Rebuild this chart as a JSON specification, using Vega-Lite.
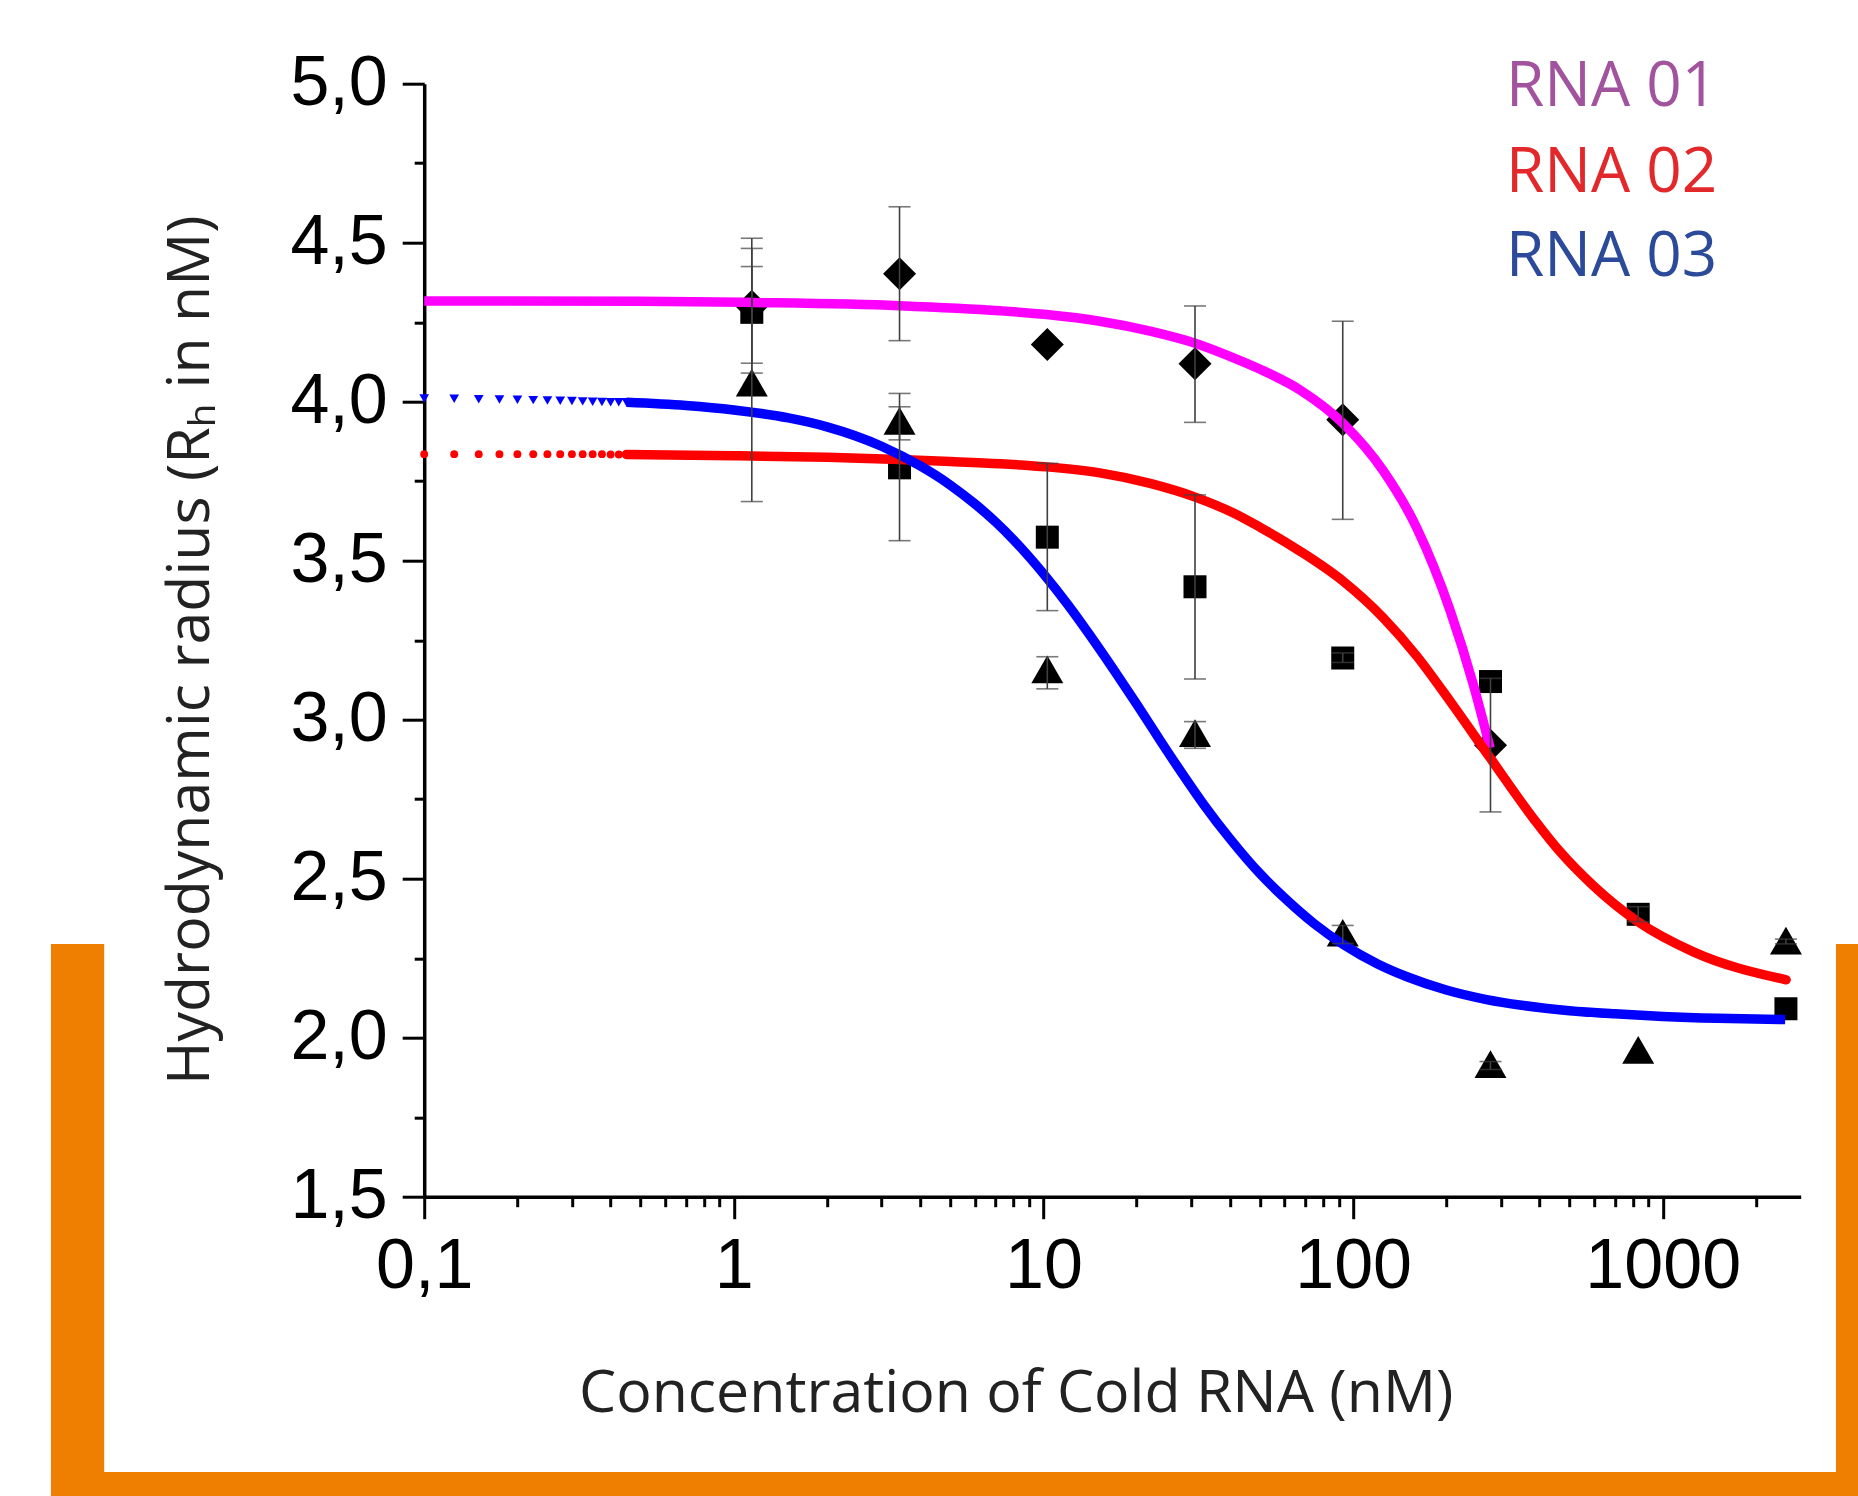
{
  "$schema": "https://vega.github.io/schema/vega-lite/v6.json",
  "width": 1376.5,
  "height": 1113,
  "autosize": {"type": "none"},
  "padding": {"left": 424.2, "top": 83.7, "right": 57.3, "bottom": 299.3},
  "background": "white",
  "config": {"view": {"stroke": null}},
  "datasets": {
    "frame": [
      {"x1": 0.006232, "x2": 0.009256, "y1": 2.2947, "y2": 0.55},
      {"x1": 0.006232, "x2": 4400, "y1": 0.6343, "y2": 0.55},
      {"x1": 3627, "x2": 4400, "y1": 2.2947, "y2": 0.55}
    ],
    "pts": [
      {"s": "RNA 01", "c": 1.143, "v": 4.30},
      {"s": "RNA 01", "c": 3.429, "v": 4.402},
      {"s": "RNA 01", "c": 10.29, "v": 4.180},
      {"s": "RNA 01", "c": 30.86, "v": 4.119},
      {"s": "RNA 01", "c": 92.59, "v": 3.943},
      {"s": "RNA 01", "c": 277.8, "v": 2.920},
      {"s": "RNA 02", "c": 1.143, "v": 4.281},
      {"s": "RNA 02", "c": 3.429, "v": 3.792},
      {"s": "RNA 02", "c": 10.29, "v": 3.574},
      {"s": "RNA 02", "c": 30.86, "v": 3.418},
      {"s": "RNA 02", "c": 92.59, "v": 3.194},
      {"s": "RNA 02", "c": 277.8, "v": 3.120},
      {"s": "RNA 02", "c": 833.3, "v": 2.388},
      {"s": "RNA 02", "c": 2500, "v": 2.091},
      {"s": "RNA 03", "c": 1.143, "v": 4.06},
      {"s": "RNA 03", "c": 3.429, "v": 3.94},
      {"s": "RNA 03", "c": 10.29, "v": 3.158},
      {"s": "RNA 03", "c": 30.86, "v": 2.958},
      {"s": "RNA 03", "c": 92.59, "v": 2.330},
      {"s": "RNA 03", "c": 277.8, "v": 1.917},
      {"s": "RNA 03", "c": 833.3, "v": 1.962},
      {"s": "RNA 03", "c": 2500, "v": 2.305}
    ],
    "err": [
      {"s": "RNA 01", "c": 1.143, "lo": 4.09, "hi": 4.514},
      {"s": "RNA 01", "c": 3.429, "lo": 4.192, "hi": 4.613},
      {"s": "RNA 01", "c": 30.86, "lo": 3.935, "hi": 4.301},
      {"s": "RNA 01", "c": 92.59, "lo": 3.630, "hi": 4.253},
      {"s": "RNA 01", "c": 277.8, "lo": 2.710, "hi": 3.13},
      {"s": "RNA 02", "c": 1.143, "lo": 4.121, "hi": 4.482},
      {"s": "RNA 02", "c": 3.429, "lo": 3.563, "hi": 4.026},
      {"s": "RNA 02", "c": 10.29, "lo": 3.343, "hi": 3.806},
      {"s": "RNA 02", "c": 30.86, "lo": 3.128, "hi": 3.707},
      {"s": "RNA 02", "c": 92.59, "lo": 3.18, "hi": 3.21},
      {"s": "RNA 02", "c": 833.3, "lo": 2.365, "hi": 2.412},
      {"s": "RNA 03", "c": 1.143, "lo": 3.686, "hi": 4.425},
      {"s": "RNA 03", "c": 3.429, "lo": 3.88, "hi": 3.984},
      {"s": "RNA 03", "c": 10.29, "lo": 3.097, "hi": 3.198},
      {"s": "RNA 03", "c": 30.86, "lo": 2.910, "hi": 2.994},
      {"s": "RNA 03", "c": 92.59, "lo": 2.296, "hi": 2.353},
      {"s": "RNA 03", "c": 277.8, "lo": 1.90, "hi": 1.925},
      {"s": "RNA 03", "c": 2500, "lo": 2.295, "hi": 2.31}
    ],
    "curve01": [
      {"c": 0.1, "v": 4.317},
      {"c": 0.5, "v": 4.316},
      {"c": 1.15, "v": 4.312},
      {"c": 3.43, "v": 4.302},
      {"c": 7.24, "v": 4.286},
      {"c": 10.25, "v": 4.274},
      {"c": 15.2, "v": 4.253},
      {"c": 22.1, "v": 4.222},
      {"c": 30.9, "v": 4.184},
      {"c": 41.1, "v": 4.138},
      {"c": 50.1, "v": 4.102},
      {"c": 67.4, "v": 4.037},
      {"c": 93, "v": 3.931},
      {"c": 125.3, "v": 3.782},
      {"c": 160.6, "v": 3.603},
      {"c": 205.8, "v": 3.343},
      {"c": 244.7, "v": 3.109},
      {"c": 277, "v": 2.911}
    ],
    "curve02": [
      {"c": 0.45, "v": 3.834},
      {"c": 1, "v": 3.830},
      {"c": 2, "v": 3.825},
      {"c": 3.43, "v": 3.818},
      {"c": 5, "v": 3.812},
      {"c": 7.24, "v": 3.805},
      {"c": 10.25, "v": 3.795},
      {"c": 15.2, "v": 3.776},
      {"c": 22.1, "v": 3.743},
      {"c": 30.9, "v": 3.700},
      {"c": 41.1, "v": 3.650},
      {"c": 50.1, "v": 3.605},
      {"c": 67.4, "v": 3.530},
      {"c": 93, "v": 3.435},
      {"c": 125.3, "v": 3.320},
      {"c": 160.6, "v": 3.200},
      {"c": 205.8, "v": 3.058},
      {"c": 277, "v": 2.880},
      {"c": 382, "v": 2.690},
      {"c": 466, "v": 2.585},
      {"c": 597, "v": 2.478},
      {"c": 831, "v": 2.365},
      {"c": 1256, "v": 2.270},
      {"c": 2503, "v": 2.182}
    ],
    "curve03": [
      {"c": 0.45, "v": 3.998},
      {"c": 0.7, "v": 3.988},
      {"c": 1, "v": 3.974},
      {"c": 1.5, "v": 3.949},
      {"c": 2, "v": 3.921},
      {"c": 3, "v": 3.860},
      {"c": 4, "v": 3.798},
      {"c": 5, "v": 3.738},
      {"c": 6, "v": 3.679},
      {"c": 7, "v": 3.622},
      {"c": 8, "v": 3.566},
      {"c": 10, "v": 3.459},
      {"c": 12, "v": 3.361},
      {"c": 14, "v": 3.271},
      {"c": 17, "v": 3.152},
      {"c": 20, "v": 3.049},
      {"c": 24, "v": 2.930},
      {"c": 28, "v": 2.832},
      {"c": 33, "v": 2.732},
      {"c": 40, "v": 2.626},
      {"c": 50, "v": 2.516},
      {"c": 60, "v": 2.440},
      {"c": 75, "v": 2.358},
      {"c": 93, "v": 2.293},
      {"c": 120, "v": 2.232},
      {"c": 150, "v": 2.191},
      {"c": 200, "v": 2.150},
      {"c": 270, "v": 2.120},
      {"c": 350, "v": 2.102},
      {"c": 500, "v": 2.085},
      {"c": 700, "v": 2.075},
      {"c": 1000, "v": 2.067},
      {"c": 1500, "v": 2.061},
      {"c": 2485, "v": 2.057}
    ],
    "dotsR": [
      {"c": 0.1, "v": 3.835}, {"c": 0.125, "v": 3.835}, {"c": 0.15, "v": 3.835},
      {"c": 0.175, "v": 3.835}, {"c": 0.2, "v": 3.835}, {"c": 0.225, "v": 3.835},
      {"c": 0.25, "v": 3.835}, {"c": 0.275, "v": 3.835}, {"c": 0.3, "v": 3.835},
      {"c": 0.325, "v": 3.835}, {"c": 0.35, "v": 3.835}, {"c": 0.375, "v": 3.835},
      {"c": 0.4, "v": 3.834}, {"c": 0.425, "v": 3.834}, {"c": 0.45, "v": 3.834}
    ],
    "dotsB": [
      {"c": 0.1, "v": 4.010}, {"c": 0.125, "v": 4.009}, {"c": 0.15, "v": 4.008},
      {"c": 0.175, "v": 4.007}, {"c": 0.2, "v": 4.006}, {"c": 0.225, "v": 4.005},
      {"c": 0.25, "v": 4.004}, {"c": 0.275, "v": 4.003}, {"c": 0.3, "v": 4.002},
      {"c": 0.325, "v": 4.001}, {"c": 0.35, "v": 4.000}, {"c": 0.375, "v": 3.999},
      {"c": 0.4, "v": 3.998}, {"c": 0.425, "v": 3.998}, {"c": 0.45, "v": 3.998}
    ],
    "labels": [
      {"label": "RNA 01", "c": 312, "v": 4.929},
      {"label": "RNA 02", "c": 312, "v": 4.661},
      {"label": "RNA 03", "c": 312, "v": 4.395}
    ]
  },
  "resolve": {"axis": {"x": "independent", "y": "independent"}},
  "layer": [
    {
      "data": {"name": "frame"},
      "mark": {"type": "rect", "color": "#EE7F00", "clip": false},
      "encoding": {
        "x": {"field": "x1", "type": "quantitative",
              "scale": {"type": "log", "domain": [0.1, 2790], "nice": false, "zero": false},
              "axis": {"orient": "bottom", "values": [0.2,0.3,0.4,0.5,0.6,0.7,0.8,0.9,2,3,4,5,6,7,8,9,20,30,40,50,60,70,80,90,200,300,400,500,600,700,800,900,2000],
                       "labels": false, "domain": false, "grid": false, "title": null,
                       "tickSize": 10, "tickWidth": 3, "tickColor": "black"}},
        "x2": {"field": "x2"},
        "y": {"field": "y1", "type": "quantitative",
              "scale": {"domain": [1.5, 5.0], "nice": false, "zero": false},
              "axis": {"orient": "left", "values": [1.75,2.25,2.75,3.25,3.75,4.25,4.75],
                       "labels": false, "domain": false, "grid": false, "title": null,
                       "tickSize": 10, "tickWidth": 3, "tickColor": "black"}},
        "y2": {"field": "y2"}
      }
    },
    {
      "data": {"name": "pts"},
      "transform": [{"filter": "datum.s == 'RNA 01'"}],
      "mark": {"type": "point", "shape": "diamond", "filled": true, "color": "black", "opacity": 1, "size": 1089},
      "encoding": {
        "x": {"field": "c", "type": "quantitative",
              "scale": {"type": "log", "domain": [0.1, 2790], "nice": false, "zero": false},
              "axis": {"orient": "bottom", "values": [0.1, 1, 10, 100, 1000],
                       "labelExpr": "datum.value < 1 ? '0,1' : format(datum.value, 'd')",
                       "labelFont": "Liberation Sans", "labelFontSize": 70, "labelColor": "black",
                       "labelPadding": 14, "labelFlush": false, "labelOverlap": false,
                       "tickSize": 22, "tickWidth": 3, "tickColor": "black",
                       "domainColor": "black", "domainWidth": 3.5, "grid": false,
                       "title": "Concentration of Cold RNA (nM)",
                       "titleFont": "Open Sans", "titleFontSize": 59, "titleFontWeight": "normal", "titleColor": "#222222",
                       "titleX": 591.5, "titleY": 215, "titleBaseline": "alphabetic", "titleAlign": "center", "titleAnchor": null}},
        "y": {"field": "v", "type": "quantitative",
              "scale": {"domain": [1.5, 5.0], "nice": false, "zero": false},
              "axis": {"orient": "left", "values": [1.5, 2.0, 2.5, 3.0, 3.5, 4.0, 4.5, 5.0],
                       "labelExpr": "replace(format(datum.value, '.1f'), '.', ',')",
                       "labelFont": "Liberation Sans", "labelFontSize": 70, "labelColor": "black",
                       "labelPadding": 15, "labelFlush": false, "labelOverlap": false,
                       "tickSize": 22, "tickWidth": 3, "tickColor": "black",
                       "domainColor": "black", "domainWidth": 3.5, "grid": false,
                       "title": "Hydrodynamic radius (Rₕ in nM)",
                       "titleFont": "Open Sans", "titleFontSize": 59, "titleFontWeight": "normal", "titleColor": "#222222",
                       "titleX": -216, "titleY": 566, "titleAngle": -90, "titleBaseline": "alphabetic", "titleAlign": "center", "titleAnchor": null}}
      }
    },
    {
      "data": {"name": "pts"},
      "transform": [{"filter": "datum.s == 'RNA 02'"}],
      "mark": {"type": "point", "shape": "square", "filled": true, "color": "black", "opacity": 1, "size": 529},
      "encoding": {
        "x": {"field": "c", "type": "quantitative", "scale": {"type": "log", "domain": [0.1, 2790], "nice": false, "zero": false}, "axis": null},
        "y": {"field": "v", "type": "quantitative", "scale": {"domain": [1.5, 5.0], "nice": false, "zero": false}, "axis": null}
      }
    },
    {
      "data": {"name": "pts"},
      "transform": [{"filter": "datum.s == 'RNA 03'"}],
      "mark": {"type": "point", "shape": "triangle-up", "filled": true, "color": "black", "opacity": 1, "size": 1024},
      "encoding": {
        "x": {"field": "c", "type": "quantitative", "scale": {"type": "log", "domain": [0.1, 2790], "nice": false, "zero": false}, "axis": null},
        "y": {"field": "v", "type": "quantitative", "scale": {"domain": [1.5, 5.0], "nice": false, "zero": false}, "axis": null}
      }
    },
    {
      "data": {"name": "curve01"},
      "mark": {"type": "line", "color": "#FF00FF", "strokeWidth": 9.5, "interpolate": "monotone", "strokeCap": "butt"},
      "encoding": {
        "x": {"field": "c", "type": "quantitative", "scale": {"type": "log", "domain": [0.1, 2790], "nice": false, "zero": false}, "axis": null},
        "y": {"field": "v", "type": "quantitative", "scale": {"domain": [1.5, 5.0], "nice": false, "zero": false}, "axis": null}
      }
    },
    {
      "data": {"name": "curve02"},
      "mark": {"type": "line", "color": "#FF0000", "strokeWidth": 9.5, "interpolate": "monotone", "strokeCap": "round"},
      "encoding": {
        "x": {"field": "c", "type": "quantitative", "scale": {"type": "log", "domain": [0.1, 2790], "nice": false, "zero": false}, "axis": null},
        "y": {"field": "v", "type": "quantitative", "scale": {"domain": [1.5, 5.0], "nice": false, "zero": false}, "axis": null}
      }
    },
    {
      "data": {"name": "curve03"},
      "mark": {"type": "line", "color": "#0000FF", "strokeWidth": 9.5, "interpolate": "monotone", "strokeCap": "butt"},
      "encoding": {
        "x": {"field": "c", "type": "quantitative", "scale": {"type": "log", "domain": [0.1, 2790], "nice": false, "zero": false}, "axis": null},
        "y": {"field": "v", "type": "quantitative", "scale": {"domain": [1.5, 5.0], "nice": false, "zero": false}, "axis": null}
      }
    },
    {
      "data": {"name": "dotsR"},
      "mark": {"type": "point", "shape": "circle", "filled": true, "color": "#FF0000", "opacity": 1, "size": 62},
      "encoding": {
        "x": {"field": "c", "type": "quantitative", "scale": {"type": "log", "domain": [0.1, 2790], "nice": false, "zero": false}, "axis": null},
        "y": {"field": "v", "type": "quantitative", "scale": {"domain": [1.5, 5.0], "nice": false, "zero": false}, "axis": null}
      }
    },
    {
      "data": {"name": "dotsB"},
      "mark": {"type": "point", "shape": "triangle-down", "filled": true, "color": "#0000FF", "opacity": 1, "size": 95},
      "encoding": {
        "x": {"field": "c", "type": "quantitative", "scale": {"type": "log", "domain": [0.1, 2790], "nice": false, "zero": false}, "axis": null},
        "y": {"field": "v", "type": "quantitative", "scale": {"domain": [1.5, 5.0], "nice": false, "zero": false}, "axis": null}
      }
    },
    {
      "data": {"name": "err"},
      "mark": {"type": "errorbar", "color": "#404040", "thickness": 1.6,
               "rule": {"strokeWidth": 1.6, "color": "#404040"},
               "ticks": {"size": 22, "thickness": 1.6, "color": "#404040"}},
      "encoding": {
        "x": {"field": "c", "type": "quantitative", "scale": {"type": "log", "domain": [0.1, 2790], "nice": false, "zero": false}, "axis": null},
        "y": {"field": "lo", "type": "quantitative", "scale": {"domain": [1.5, 5.0], "nice": false, "zero": false}, "axis": null},
        "y2": {"field": "hi"}
      }
    },
    {
      "data": {"name": "labels"},
      "mark": {"type": "text", "font": "Open Sans", "fontSize": 62, "align": "left", "baseline": "alphabetic"},
      "encoding": {
        "x": {"field": "c", "type": "quantitative", "scale": {"type": "log", "domain": [0.1, 2790], "nice": false, "zero": false}, "axis": null},
        "y": {"field": "v", "type": "quantitative", "scale": {"domain": [1.5, 5.0], "nice": false, "zero": false}, "axis": null},
        "text": {"field": "label", "type": "nominal"},
        "color": {"field": "label", "type": "nominal",
                  "scale": {"domain": ["RNA 01", "RNA 02", "RNA 03"], "range": ["#A2539E", "#E3282B", "#2C4A9A"]},
                  "legend": null}
      }
    }
  ]
}
